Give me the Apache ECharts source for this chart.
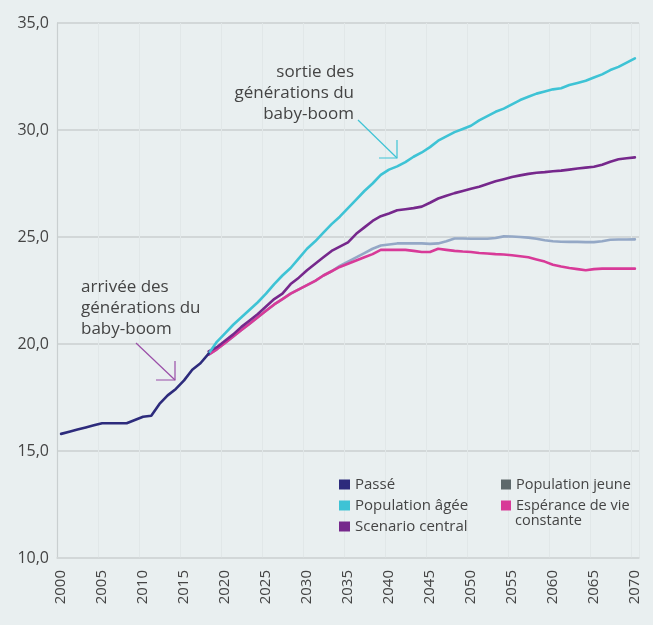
<!DOCTYPE html>
<html>
<head>
<meta charset="utf-8">
<script src="https://cdn.jsdelivr.net/npm/echarts@6/dist/echarts.min.js"></script>
<style>
html,body{margin:0;padding:0;background:#e9eff0;}
#chart{width:653px;height:625px;}
</style>
</head>
<body>
<div id="chart"></div>
<script>
// ---- data ----
var years = [];
for (var y = 2000; y <= 2070; y++) years.push(String(y));

// Passé: 2000..2018
var passe = [15.8, 15.9, 16.0, 16.1, 16.2, 16.3, 16.3, 16.3, 16.3, 16.45,
             16.6, 16.65, 17.2, 17.6, 17.9, 18.3, 18.8, 19.1, 19.55];

// projections: 2018..2070
var projStartYear = 2018;
var populationAgee = [19.55, 20.1, 20.5, 20.9, 21.25, 21.6, 21.95, 22.35, 22.8, 23.2,
  23.55, 24.0, 24.45, 24.8, 25.2, 25.6, 25.95, 26.35, 26.75, 27.15,
  27.5, 27.9, 28.15, 28.3, 28.5, 28.75, 28.95, 29.2, 29.5, 29.7,
  29.9, 30.05, 30.2, 30.45, 30.65, 30.85, 31.0, 31.2, 31.4, 31.55,
  31.7, 31.8, 31.9, 31.95, 32.1, 32.2, 32.3, 32.45, 32.6, 32.8,
  32.95, 33.15, 33.35];
var scenarioCentral = [19.65, 19.85, 20.15, 20.45, 20.8, 21.1, 21.4, 21.75, 22.1, 22.35,
  22.8, 23.1, 23.45, 23.75, 24.05, 24.35, 24.55, 24.75, 25.15, 25.45,
  25.75, 25.97, 26.1, 26.25, 26.3, 26.35, 26.42, 26.6, 26.8, 26.93,
  27.05, 27.15, 27.25, 27.35, 27.48, 27.6, 27.7, 27.8, 27.88, 27.95,
  28.0, 28.03, 28.07, 28.1, 28.15, 28.2, 28.24, 28.28, 28.38, 28.52,
  28.63, 28.68, 28.72];
var esperanceConstante = [19.5, 19.75, 20.05, 20.35, 20.65, 20.95, 21.25, 21.55, 21.85, 22.1,
  22.35, 22.55, 22.75, 22.95, 23.2, 23.4, 23.6, 23.75, 23.9, 24.05,
  24.2, 24.4, 24.4, 24.4, 24.4, 24.35, 24.3, 24.3, 24.45, 24.4,
  24.35, 24.32, 24.3, 24.25, 24.23, 24.2, 24.18, 24.15, 24.1, 24.05,
  23.95, 23.85, 23.7, 23.62, 23.55, 23.5, 23.45, 23.5, 23.52, 23.52,
  23.52, 23.52, 23.52];
var populationJeune = [19.5, 19.75, 20.05, 20.35, 20.65, 20.95, 21.25, 21.55, 21.85, 22.1,
  22.35, 22.55, 22.75, 22.95, 23.2, 23.4, 23.65, 23.85, 24.05, 24.25,
  24.45, 24.6, 24.65, 24.7, 24.7, 24.7, 24.7, 24.68, 24.7, 24.8,
  24.93, 24.93, 24.92, 24.92, 24.92, 24.95, 25.03, 25.02, 25.0, 24.97,
  24.92, 24.85, 24.8, 24.78, 24.77, 24.77, 24.76, 24.76, 24.8, 24.87,
  24.88, 24.88, 24.89];

var yTicks = [10, 15, 20, 25, 30, 35];

// ---- build ----
function pad(values, startYear) {
  var out = [];
  for (var i = 0; i < years.length; i++) {
    var idx = +years[i] - startYear;
    out.push(idx >= 0 && idx < values.length ? values[idx] : null);
  }
  return out;
}

var C = {
  passe: '#2d2b7c',
  agee: '#3ec3d5',
  central: '#76288c',
  jeune: '#94a8c6',
  jeuneLegend: '#5e696b',
  esperance: '#d83a98'
};
var textColor = '#444';
var font = '"Open Sans", "Noto Sans", sans-serif';

var chart = echarts.init(document.getElementById('chart'), null, {renderer: 'canvas'});

function lineSeries(name, data, color, z) {
  return {
    name: name, type: 'line', data: data, showSymbol: false, symbol: 'none',
    connectNulls: false, z: z,
    lineStyle: {color: color, width: 2.6, join: 'round', cap: 'round'},
    itemStyle: {color: color}
  };
}

var legendText = {color: textColor, fontSize: 15, fontFamily: font, lineHeight: 14};

chart.setOption({
  backgroundColor: '#e9eff0',
  animation: false,
  grid: {left: 57, right: 14, top: 23, bottom: 67, containLabel: false},
  legend: [
    {
      data: ['Passé', 'Population âgée', 'Scenario central'],
      orient: 'vertical', left: 339, top: 477, padding: 0,
      itemWidth: 11, itemHeight: 10, itemGap: 6, icon: 'rect',
      textStyle: legendText, selectedMode: false
    },
    {
      data: [{name: 'Population jeune', itemStyle: {color: C.jeuneLegend}}, 'Espérance de vie constante'],
      orient: 'vertical', left: 501, top: 477, padding: 0,
      itemWidth: 10, itemHeight: 10, itemGap: 6, icon: 'rect',
      textStyle: {color: textColor, fontSize: 14.5, fontFamily: font, lineHeight: 14}, selectedMode: false,
      formatter: function (n) { return n === 'Espérance de vie constante' ? 'Espérance de vie' : n; }
    }
  ],
  xAxis: {
    type: 'category', data: years, boundaryGap: true,
    axisLine: {show: true, lineStyle: {color: '#d2d7d8', width: 1.5}},
    axisTick: {show: false},
    axisLabel: {interval: 4, rotate: 90, color: textColor, fontSize: 15, fontFamily: font, margin: 12},
    splitLine: {show: true, interval: 4, lineStyle: {color: '#e1e7e8', width: 1}}
  },
  yAxis: {
    type: 'value', min: yTicks[0], max: yTicks[yTicks.length - 1], interval: 5,
    axisLine: {show: true, lineStyle: {color: '#c9cfd0', width: 1.2}},
    axisTick: {show: false},
    axisLabel: {
      color: textColor, fontSize: 16, fontFamily: font, margin: 8,
      formatter: function (v) { return v.toFixed(1).replace('.', ','); }
    },
    splitLine: {show: true, lineStyle: {color: '#d2d7d8', width: 1.8}}
  },
  series: [
    lineSeries('Population jeune', pad(populationJeune, projStartYear), C.jeune, 2),
    lineSeries('Espérance de vie constante', pad(esperanceConstante, projStartYear), C.esperance, 3),
    lineSeries('Scenario central', pad(scenarioCentral, projStartYear), C.central, 4),
    lineSeries('Population âgée', pad(populationAgee, projStartYear), C.agee, 5),
    lineSeries('Passé', pad(passe, 2000), C.passe, 6)
  ],
  graphic: [
    {type: 'text', z: 100, left: 515, top: 513, style: {text: 'constante', fill: textColor, font: '14.5px ' + font}},
    {type: 'text', z: 100, right: 653 - 354, top: 62,
     style: {text: 'sortie des\ngénérations du\nbaby-boom', fill: textColor, font: '17px ' + font, lineHeight: 21, textAlign: 'right'}},
    {type: 'polyline', z: 100, shape: {points: [[358, 120], [397, 158]]}, style: {stroke: C.agee, lineWidth: 1.2, fill: null}},
    {type: 'polyline', z: 100, shape: {points: [[379, 158], [397, 158], [397, 140]]}, style: {stroke: C.agee, lineWidth: 1.2, fill: null}},
    {type: 'text', z: 100, left: 81, top: 277,
     style: {text: 'arrivée des\ngénérations du\nbaby-boom', fill: textColor, font: '17px ' + font, lineHeight: 21}},
    {type: 'polyline', z: 100, shape: {points: [[136, 343], [175, 380]]}, style: {stroke: '#9a4ea8', lineWidth: 1.2, fill: null}},
    {type: 'polyline', z: 100, shape: {points: [[156, 380], [175, 380], [175, 361]]}, style: {stroke: '#9a4ea8', lineWidth: 1.2, fill: null}}
  ]
});
</script>
</body>
</html>
